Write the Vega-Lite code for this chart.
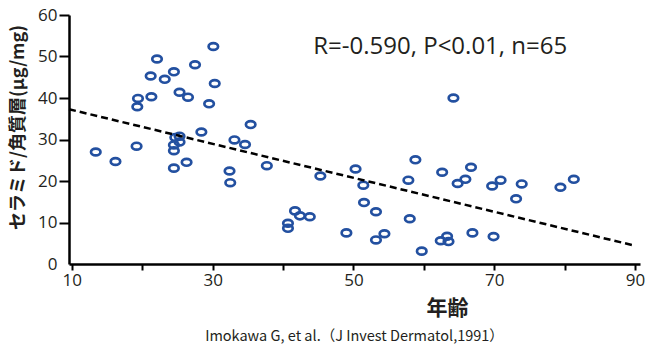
{
  "$schema": "https://vega.github.io/schema/vega-lite/v6.json",
  "width": 571,
  "height": 249,
  "autosize": {"type": "none"},
  "padding": {"left": 69, "top": 15, "right": 8, "bottom": 83},
  "config": {"view": {"stroke": null}, "font": "Open Sans"},
  "title": {
    "text": "Imokawa G, et al.（J Invest Dermatol,1991）",
    "orient": "bottom",
    "anchor": "middle",
    "font": "Noto Sans CJK JP",
    "fontSize": 14.5,
    "fontWeight": "normal",
    "color": "#231f20",
    "offset": 12
  },
  "datasets": {
    "points": [
      {"age": 13.4, "ceramide": 27.0}, {"age": 16.2, "ceramide": 24.7}, {"age": 19.2, "ceramide": 28.4},
      {"age": 19.4, "ceramide": 39.9}, {"age": 19.3, "ceramide": 37.9}, {"age": 21.3, "ceramide": 40.3},
      {"age": 21.2, "ceramide": 45.3}, {"age": 22.1, "ceramide": 49.4}, {"age": 23.2, "ceramide": 44.5},
      {"age": 24.5, "ceramide": 46.3}, {"age": 25.3, "ceramide": 41.4}, {"age": 26.5, "ceramide": 40.2},
      {"age": 27.5, "ceramide": 48.0}, {"age": 30.1, "ceramide": 52.4}, {"age": 30.3, "ceramide": 43.5},
      {"age": 29.5, "ceramide": 38.6}, {"age": 28.4, "ceramide": 31.8}, {"age": 25.3, "ceramide": 30.8},
      {"age": 24.7, "ceramide": 30.5}, {"age": 25.3, "ceramide": 29.4}, {"age": 24.5, "ceramide": 28.7},
      {"age": 24.5, "ceramide": 27.3}, {"age": 24.5, "ceramide": 23.1}, {"age": 26.3, "ceramide": 24.5},
      {"age": 32.4, "ceramide": 22.4}, {"age": 32.5, "ceramide": 19.6}, {"age": 33.1, "ceramide": 29.9},
      {"age": 34.6, "ceramide": 28.8}, {"age": 35.4, "ceramide": 33.6}, {"age": 37.7, "ceramide": 23.7},
      {"age": 45.3, "ceramide": 21.2}, {"age": 50.3, "ceramide": 22.9}, {"age": 51.4, "ceramide": 19.0},
      {"age": 58.8, "ceramide": 25.1}, {"age": 57.8, "ceramide": 20.2}, {"age": 62.6, "ceramide": 22.1},
      {"age": 41.7, "ceramide": 12.8}, {"age": 40.7, "ceramide": 9.8}, {"age": 40.7, "ceramide": 8.6},
      {"age": 42.4, "ceramide": 11.6}, {"age": 43.8, "ceramide": 11.4}, {"age": 49.0, "ceramide": 7.5},
      {"age": 51.5, "ceramide": 14.8}, {"age": 53.2, "ceramide": 12.6}, {"age": 53.2, "ceramide": 5.8},
      {"age": 54.4, "ceramide": 7.3}, {"age": 58.0, "ceramide": 10.9}, {"age": 59.7, "ceramide": 3.1},
      {"age": 62.4, "ceramide": 5.6}, {"age": 63.3, "ceramide": 6.7}, {"age": 63.5, "ceramide": 5.4},
      {"age": 64.2, "ceramide": 40.0}, {"age": 66.7, "ceramide": 23.3}, {"age": 64.8, "ceramide": 19.4},
      {"age": 65.9, "ceramide": 20.4}, {"age": 69.7, "ceramide": 18.8}, {"age": 70.9, "ceramide": 20.2},
      {"age": 73.9, "ceramide": 19.3}, {"age": 73.1, "ceramide": 15.7}, {"age": 79.4, "ceramide": 18.5},
      {"age": 81.3, "ceramide": 20.4}, {"age": 66.9, "ceramide": 7.5}, {"age": 69.9, "ceramide": 6.6}
    ],
    "fit": [
      {"age": 9.6, "ceramide": 37.3},
      {"age": 90.0, "ceramide": 4.4}
    ],
    "note": [
      {"age": 44.3, "ceramide": 50.6, "label": "R=-0.590, P<0.01, n=65"}
    ]
  },
  "layer": [
    {
      "data": {"name": "points"},
      "mark": {
        "type": "point",
        "shape": "M1,0C1,0.3977,0.5523,0.72,0,0.72C-0.5523,0.72,-1,0.3977,-1,0C-1,-0.3977,-0.5523,-0.72,0,-0.72C0.5523,-0.72,1,-0.3977,1,0Z",
        "size": 90,
        "filled": false,
        "stroke": "#2350a0",
        "strokeWidth": 2.7,
        "opacity": 1
      },
      "encoding": {
        "x": {
          "field": "age", "type": "quantitative",
          "scale": {"domain": [9.6, 90.7], "nice": false, "zero": false},
          "axis": {
            "title": "年齢",
            "values": [10, 20, 30, 40, 50, 60, 70, 80, 90],
            "labelExpr": "datum.value % 20 == 10 ? datum.label : ''",
            "grid": false,
            "domainColor": "black", "domainWidth": 2.5,
            "tickColor": "black", "tickWidth": 2, "tickSize": 6,
            "labelFontSize": 17, "labelColor": "#231f20", "labelPadding": 2, "labelFlush": false,
            "titleFont": "Noto Sans CJK JP", "titleFontSize": 21, "titleFontWeight": "bold", "titleColor": "#231f20",
            "titleX": 378, "titleY": 44, "titleBaseline": "middle", "titleAlign": "center"
          }
        },
        "y": {
          "field": "ceramide", "type": "quantitative",
          "scale": {"domain": [0, 60], "nice": false},
          "axis": {
            "title": "セラミド/角質層(μg/mg)",
            "values": [0, 10, 20, 30, 40, 50, 60],
            "grid": false,
            "domainColor": "black", "domainWidth": 2.5,
            "tickColor": "black", "tickWidth": 2, "tickSize": 10,
            "tickOpacity": {"condition": {"test": "datum.value === 0", "value": 0}, "value": 1},
            "labelFontSize": 17, "labelColor": "#231f20", "labelPadding": 2,
            "titleFont": "Noto Sans CJK JP", "titleFontSize": 18, "titleFontWeight": "bold", "titleColor": "#231f20",
            "titleAngle": -90, "titleX": -51, "titleY": 112, "titleAlign": "center", "titleBaseline": "middle"
          }
        }
      }
    },
    {
      "data": {"name": "fit"},
      "mark": {"type": "line", "color": "black", "strokeWidth": 2.5, "strokeDash": [7, 4]},
      "encoding": {
        "x": {"field": "age", "type": "quantitative"},
        "y": {"field": "ceramide", "type": "quantitative"}
      }
    },
    {
      "data": {"name": "note"},
      "mark": {"type": "text", "align": "left", "baseline": "alphabetic", "fontSize": 24, "color": "#231f20", "font": "Open Sans"},
      "encoding": {
        "x": {"field": "age", "type": "quantitative"},
        "y": {"field": "ceramide", "type": "quantitative"},
        "text": {"field": "label"}
      }
    }
  ]
}
